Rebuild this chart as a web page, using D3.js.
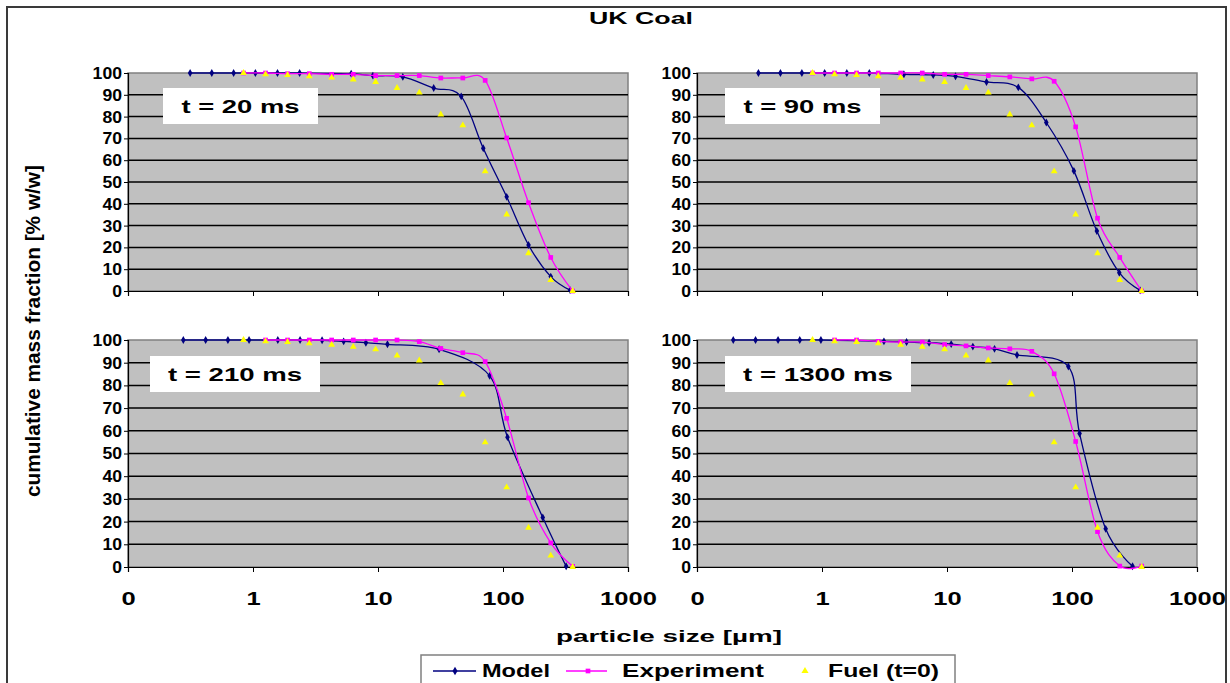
<!DOCTYPE html>
<html><head><meta charset="utf-8">
<script src="https://cdn.jsdelivr.net/npm/d3@7"></script>
<style>
body{margin:0;background:#fff}
svg{display:block}
text{font-family:"Liberation Sans",Arial,sans-serif;font-weight:bold;fill:#000}
</style>
</head><body>
<svg id="c" width="1230" height="683"></svg>
<script>
// ---------- data ----------
const chartTitle = "UK Coal";
const xAxisTitle = "particle size [µm]";
const yAxisTitle = "cumulative mass fraction [% w/w]";
const xTickValues = [0.1, 1, 10, 100, 1000];
const xTickLabels = ["0", "1", "10", "100", "1000"];
const yTickValues = [0, 10, 20, 30, 40, 50, 60, 70, 80, 90, 100];
const panelLabels = ["t = 20 ms", "t = 90 ms", "t = 210 ms", "t = 1300 ms"];
const seriesNames = ["Model", "Experiment", "Fuel (t=0)"];

// Fuel (t=0), same in all panels
const fuelSize = [0.84, 1.26, 1.89, 2.82, 4.26, 6.34, 9.57, 14.2, 21.4, 31.8, 47.7, 72, 107, 160, 241, 361];
const fuelFrac = [100, 99.4, 99.1, 98.5, 97.9, 97.0, 95.9, 93.1, 91.0, 81.0, 76.0, 54.9, 35.1, 17.3, 5.0, 0];

// Experiment
const exp20Size = [0.84, 1.26, 1.89, 2.82, 4.26, 6.34, 9.57, 14.2, 21.4, 31.8, 47.7, 72, 107, 160, 241, 361];
const exp20Frac = [100, 100, 99.7, 99.7, 99.4, 99.4, 98.8, 98.8, 98.8, 97.7, 97.7, 96.6, 70.2, 40.5, 15.4, 0];
const exp90Size = [0.84, 1.26, 1.89, 2.82, 4.26, 6.34, 9.57, 14.2, 21.4, 31.8, 47.7, 72, 107, 160, 241, 361];
const exp90Frac = [100, 100, 100, 100, 100, 100, 99.4, 99.4, 98.8, 98.2, 97.3, 96.2, 75.3, 33.4, 15.4, 0];
const exp210Size = [1.26, 1.89, 2.82, 4.26, 6.34, 9.57, 14.2, 21.4, 31.8, 47.7, 72, 107, 160, 241, 361];
const exp210Frac = [100, 100, 100, 100, 100, 100, 100, 99.3, 96.3, 94.4, 90.5, 65.5, 30.4, 10.6, 0.3];
const exp1300Size = [1.26, 1.89, 2.82, 4.26, 6.34, 9.57, 14.2, 21.4, 31.8, 47.7, 72, 107, 160, 241, 361];
const exp1300Frac = [100, 100, 99.4, 99.1, 99.1, 98.0, 97.4, 96.5, 96.1, 95.0, 85.1, 55.3, 15.6, 0.4, 0.4];

// Model
const mod20Size = [0.314, 0.468, 0.70, 1.045, 1.57, 2.36, 6.1, 9.1, 15.8, 27.9, 46.3, 69.5, 107, 160, 241, 344];
const mod20Frac = [100, 100, 100, 100, 100, 100, 99.7, 98.8, 98.2, 93.1, 89.3, 65.5, 43.2, 21.1, 6.6, 0.4];
const mod90Size = [0.31, 0.465, 0.69, 1.05, 1.58, 2.39, 4.52, 7.76, 11.7, 20.7, 37.2, 62.3, 103.5, 158, 239, 351];
const mod90Frac = [100, 100, 100, 100, 100, 100, 99.4, 99.1, 98.5, 95.9, 93.4, 77.3, 55.1, 27.5, 8.4, 0.3];
const mod210Size = [0.277, 0.418, 0.63, 0.93, 1.58, 2.38, 3.57, 5.31, 8.0, 11.9, 30.8, 78.2, 108.6, 208, 320];
const mod210Frac = [100, 100, 100, 100, 100, 100, 99.9, 99.4, 98.8, 98.1, 95.9, 84.2, 57.2, 21.8, 0.3];
const mod1300Size = [0.195, 0.294, 0.445, 0.664, 0.98, 3.13, 4.75, 7.19, 10.8, 16.1, 24.0, 36.3, 93.5, 115, 186, 305];
const mod1300Frac = [100, 100, 100, 100, 100, 99.4, 99.1, 98.8, 98.2, 97.1, 96.1, 93.4, 88.3, 58.8, 16.8, 0.3];

// ---------- layout ----------
const svg = d3.select("#c");
const zip = (a, b) => a.map((v, i) => [v, b[i]]);
const panels = [
  {box:[128, 628, 73, 291], labels:false, mod:zip(mod20Size, mod20Frac), exp:zip(exp20Size, exp20Frac), lab:[163, 88, 155, 36, 118]},
  {box:[697, 1197, 73, 291], labels:false, mod:zip(mod90Size, mod90Frac), exp:zip(exp90Size, exp90Frac), lab:[725, 88, 155, 36, 118]},
  {box:[128, 628, 340, 567], labels:true, mod:zip(mod210Size, mod210Frac), exp:zip(exp210Size, exp210Frac), lab:[150, 356, 170, 36, 134]},
  {box:[697, 1197, 340, 567], labels:true, mod:zip(mod1300Size, mod1300Frac), exp:zip(exp1300Size, exp1300Frac), lab:[725, 356, 186, 36, 150]}
];
const fuel = zip(fuelSize, fuelFrac);
const navy = "#000080", magenta = "#FF00FF", yellow = "#FFFF00";

// figure border
svg.append("rect").attr("x", 7).attr("y", 7).attr("width", 1219).attr("height", 700)
  .attr("fill", "#fff").attr("stroke", "#3a3a3a").attr("stroke-width", 2);

svg.append("text").attr("x", 641).attr("y", 24).attr("text-anchor", "middle")
  .attr("font-size", 16).attr("textLength", 104).attr("lengthAdjust", "spacingAndGlyphs").text(chartTitle);

panels.forEach((p, i) => {
  const [x0, x1, y0, y1] = p.box;
  const x = d3.scaleLog().domain([0.1, 1000]).range([x0, x1]);
  const y = d3.scaleLinear().domain([0, 100]).range([y1, y0]);
  const g = svg.append("g");
  g.append("rect").attr("x", x0).attr("y", y0).attr("width", x1 - x0).attr("height", y1 - y0)
    .attr("fill", "#C0C0C0").attr("stroke", "#808080").attr("stroke-width", 1.5);
  g.selectAll("line.grid").data(yTickValues.filter(v => v > 0 && v < 100)).join("line")
    .attr("x1", x0).attr("x2", x1).attr("y1", d => y(d)).attr("y2", d => y(d))
    .attr("stroke", "#000").attr("stroke-width", 1.5);
  // y axis
  const ya = g.append("g").attr("transform", `translate(${x0},0)`)
    .call(d3.axisLeft(y).tickValues(yTickValues).tickSize(4).tickPadding(2).tickFormat(d3.format("d")));
  ya.select(".domain").attr("stroke", "#000").attr("stroke-width", 1.2);
  ya.selectAll("text").attr("font-size", 17).attr("font-family", "Liberation Sans, Arial, sans-serif").attr("font-weight", "bold")
    .each(function (d) { const s = String(d); d3.select(this).attr("textLength", s.length * 9.8).attr("lengthAdjust", "spacingAndGlyphs"); });
  // x axis
  const xa = g.append("g").attr("transform", `translate(0,${y1})`)
    .call(d3.axisBottom(x).tickValues(xTickValues).tickSize(5).tickPadding(20)
      .tickFormat((d, k) => p.labels ? xTickLabels[k] : ""));
  xa.select(".domain").attr("stroke", "#000").attr("stroke-width", 1.2);
  xa.selectAll("text").attr("font-size", 18).attr("font-family", "Liberation Sans, Arial, sans-serif").attr("font-weight", "bold")
    .each(function (d, k) { const s = xTickLabels[k]; d3.select(this).attr("textLength", s.length * 14.2).attr("lengthAdjust", "spacingAndGlyphs"); });

  const line = d3.line().x(d => x(d[0])).y(d => y(d[1])).curve(d3.curveCardinal.tension(0));
  // Model
  g.append("path").datum(p.mod).attr("d", line).attr("fill", "none").attr("stroke", navy).attr("stroke-width", 1.3);
  g.selectAll("path.mm").data(p.mod).join("path").attr("class", "mm")
    .attr("d", d3.symbol(d3.symbolDiamond, 18)).attr("transform", d => `translate(${x(d[0])},${y(d[1])})`).attr("fill", navy);
  // Experiment
  g.append("path").datum(p.exp).attr("d", line).attr("fill", "none").attr("stroke", magenta).attr("stroke-width", 1.3);
  g.selectAll("path.em").data(p.exp).join("path").attr("class", "em")
    .attr("d", d3.symbol(d3.symbolSquare, 22)).attr("transform", d => `translate(${x(d[0])},${y(d[1])})`).attr("fill", magenta);
  // Fuel
  g.selectAll("path.fm").data(fuel).join("path").attr("class", "fm")
    .attr("d", d3.symbol(d3.symbolTriangle, 20)).attr("transform", d => `translate(${x(d[0])},${y(d[1])})`).attr("fill", yellow);

  // label box
  const [lx, ly, lw, lh, tw] = p.lab;
  g.append("rect").attr("x", lx).attr("y", ly).attr("width", lw).attr("height", lh).attr("fill", "#fff");
  g.append("text").attr("x", lx + lw / 2).attr("y", ly + lh / 2 + 7).attr("text-anchor", "middle")
    .attr("font-size", 19).attr("textLength", tw).attr("lengthAdjust", "spacingAndGlyphs").text(panelLabels[i]);
});

// axis titles
svg.append("text").attr("transform", "translate(40,331) rotate(-90)").attr("text-anchor", "middle")
  .attr("font-size", 20).attr("textLength", 332).attr("lengthAdjust", "spacingAndGlyphs").text(yAxisTitle);
svg.append("text").attr("x", 669).attr("y", 642).attr("text-anchor", "middle")
  .attr("font-size", 17).attr("textLength", 226).attr("lengthAdjust", "spacingAndGlyphs").text(xAxisTitle);

// legend
const lg = svg.append("g");
lg.append("rect").attr("x", 421).attr("y", 655).attr("width", 534).attr("height", 40)
  .attr("fill", "#fff").attr("stroke", "#808080").attr("stroke-width", 1.5);
const ly = 671;
lg.append("line").attr("x1", 433).attr("x2", 476).attr("y1", ly).attr("y2", ly).attr("stroke", navy).attr("stroke-width", 1.3);
lg.append("path").attr("d", d3.symbol(d3.symbolDiamond, 22)).attr("transform", `translate(455,${ly})`).attr("fill", navy);
lg.append("line").attr("x1", 566).attr("x2", 607).attr("y1", ly).attr("y2", ly).attr("stroke", magenta).attr("stroke-width", 1.3);
lg.append("path").attr("d", d3.symbol(d3.symbolSquare, 22)).attr("transform", `translate(588,${ly})`).attr("fill", magenta);
lg.append("path").attr("d", d3.symbol(d3.symbolTriangle, 22)).attr("transform", `translate(805,${ly})`).attr("fill", yellow);
const legX = [482, 622, 828], legW = [68, 142, 111];
seriesNames.forEach((s, i) => {
  lg.append("text").attr("x", legX[i]).attr("y", ly + 6).attr("font-size", 18)
    .attr("textLength", legW[i]).attr("lengthAdjust", "spacingAndGlyphs").text(s);
});
</script>
</body></html>
